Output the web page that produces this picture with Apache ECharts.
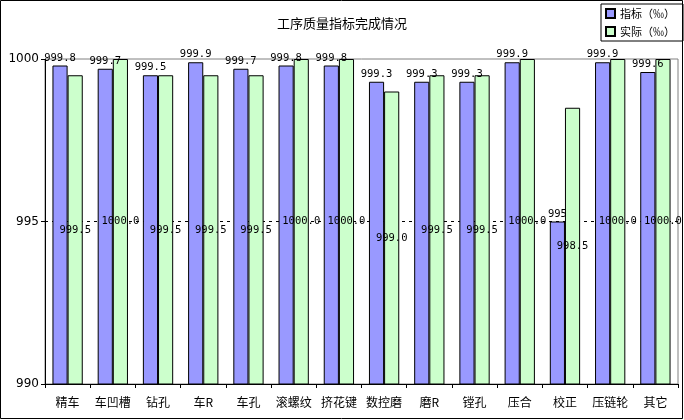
<!DOCTYPE html>
<html>
<head>
<meta charset="utf-8">
<script src="https://cdn.jsdelivr.net/npm/echarts@6/dist/echarts.min.js"></script>
<style>
html, body { margin: 0; padding: 0; background: #fff; }
#main { width: 684px; height: 420px; }
</style>
</head>
<body>
<div id="main"></div>
<script>
var categories = ['精车', '车凹槽', '钻孔', '车R', '车孔', '滚螺纹', '挤花键', '数控磨', '磨R', '镗孔', '压合', '校正', '压链轮', '其它'];
var targetValues = [999.8, 999.7, 999.5, 999.9, 999.7, 999.8, 999.8, 999.3, 999.3, 999.3, 999.9, 995, 999.9, 999.6];
var actualValues = [999.5, 1000, 999.5, 999.5, 999.5, 1000, 1000, 999.0, 999.5, 999.5, 1000, 998.5, 1000, 1000];
var targetLabels = ['999.8', '999.7', '999.5', '999.9', '999.7', '999.8', '999.8', '999.3', '999.3', '999.3', '999.9', '995', '999.9', '999.6'];
var actualLabels = ['999.5', '1000.0', '999.5', '999.5', '999.5', '1000.0', '1000.0', '999.0', '999.5', '999.5', '1000.0', '998.5', '1000.0', '1000.0'];

var cnFont = '"Noto Sans CJK SC", sans-serif';
var numFont = '"DejaVu Sans Mono", monospace';

var myChart = echarts.init(document.getElementById('main'));
var option = {
    animation: false,
    backgroundColor: '#fff',
    title: {
        text: '工序质量指标完成情况',
        left: 'center',
        top: 12,
        textStyle: {
            fontFamily: cnFont,
            fontSize: 13,
            fontWeight: 'normal',
            color: '#000'
        }
    },
    legend: {
        orient: 'vertical',
        right: 1,
        top: 4,
        padding: [4, 8, 4, 4],
        itemGap: 7,
        itemWidth: 9,
        itemHeight: 9,
        icon: 'rect',
        borderColor: '#000',
        borderWidth: 1,
        textStyle: {
            fontFamily: cnFont,
            fontSize: 11,
            color: '#000'
        },
        data: ['指标（‰）', '实际（‰）']
    },
    grid: {
        left: 45,
        right: 6,
        top: 59,
        bottom: 36,
        show: true,
        borderColor: '#808080',
        borderWidth: 1
    },
    xAxis: {
        type: 'category',
        data: categories,
        axisLine: { lineStyle: { color: '#000', width: 1 } },
        axisTick: { show: true, length: 4, lineStyle: { color: '#000' } },
        axisLabel: {
            interval: 0,
            margin: 12,
            fontFamily: cnFont,
            fontSize: 12,
            color: '#000'
        }
    },
    yAxis: {
        type: 'value',
        min: 990,
        max: 1000,
        interval: 5,
        axisLine: { show: true, lineStyle: { color: '#000', width: 1 } },
        axisTick: { show: true, length: 4, lineStyle: { color: '#000' } },
        axisLabel: {
            margin: 6,
            fontFamily: '"DejaVu Sans", sans-serif',
            fontSize: 12,
            color: '#000',
            formatter: function (v) { return String(v); }
        },
        splitLine: {
            show: true,
            lineStyle: {
                color: ['rgba(0,0,0,0)', '#000', 'rgba(0,0,0,0)'],
                type: [3, 4],
                width: 1
            }
        }
    },
    graphic: [{
        type: 'rect',
        shape: { x: 0.5, y: 0.5, width: 682, height: 418 },
        style: { fill: 'none', stroke: '#000', lineWidth: 1 },
        silent: true
    }],
    series: [
        {
            name: '指标（‰）',
            type: 'bar',
            barGap: '0%',
            barCategoryGap: '33%',
            data: targetValues,
            itemStyle: { color: '#9999FF', borderColor: '#000', borderWidth: 1 },
            label: {
                show: true,
                position: 'top',
                distance: 2,
                fontFamily: numFont,
                fontSize: 10.5,
                color: '#000',
                formatter: function (p) { return targetLabels[p.dataIndex]; }
            }
        },
        {
            name: '实际（‰）',
            type: 'bar',
            data: actualValues,
            itemStyle: { color: '#CCFFCC', borderColor: '#000', borderWidth: 1 },
            label: {
                show: true,
                position: 'inside',
                fontFamily: numFont,
                fontSize: 10.5,
                color: '#000',
                formatter: function (p) { return actualLabels[p.dataIndex]; }
            }
        }
    ]
};
myChart.setOption(option);
</script>
</body>
</html>
